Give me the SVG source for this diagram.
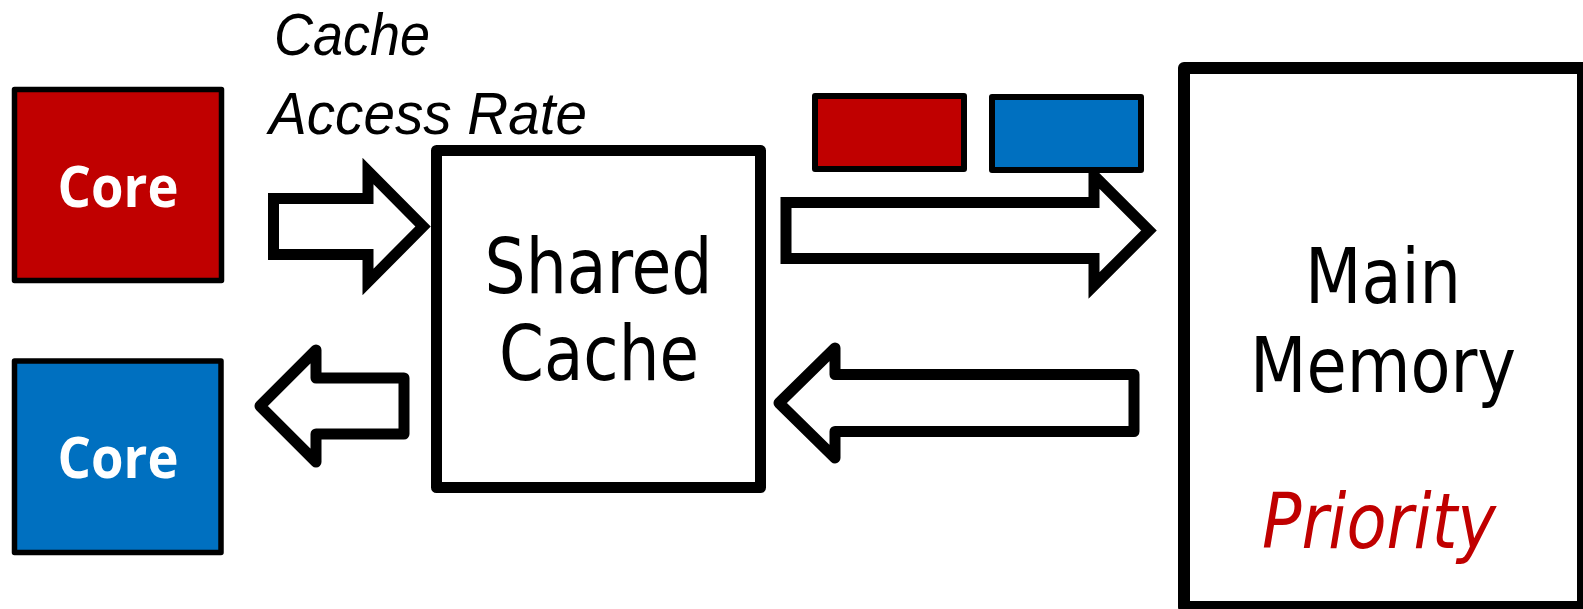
<svg xmlns="http://www.w3.org/2000/svg" width="1583" height="609" viewBox="0 0 1583 609">
<style>
.box{fill:#fff;stroke:#000;stroke-width:11;stroke-linejoin:round}
.core{stroke:#000;stroke-width:5.5;stroke-linejoin:round}
.chip{stroke:#000;stroke-width:6;stroke-linejoin:round}
.red{fill:#C00000}
.blue{fill:#0070C0}
.arrM{fill:#fff;stroke:#000;stroke-width:11;stroke-linejoin:miter;stroke-miterlimit:10}
.arrR{fill:#fff;stroke:#000;stroke-width:11;stroke-linejoin:round}
.coreT{font-family:"Open Sans","Liberation Sans",sans-serif;font-weight:bold;font-size:57px;fill:#fff;text-anchor:middle}
.big{font-family:"DejaVu Sans Condensed","DejaVu Sans",sans-serif;font-size:77px;fill:#000;text-anchor:middle}
.lbl{font-family:"Liberation Sans",Arial,sans-serif;font-style:italic;font-size:59px;fill:#000}
</style>
<g id="connectors">
<polygon class="arrM" points="273.5,198.5 368,198.5 368,171 423,226.5 368,282 368,254.5 273.5,254.5"/>
<polygon class="arrR" points="404,378 316,378 316,350 260,406 316,462 316,434 404,434"/>
<polygon class="arrM" points="786,202.5 1094,202.5 1094,175.5 1149,230.5 1094,285.5 1094,258.5 786,258.5"/>
<polygon class="arrR" points="1134,374.5 835,374.5 835,348 779,403 835,458 835,431.5 1134,431.5"/>
</g>
<g id="label-access-rate">
<text class="lbl" x="274" y="55" textLength="156" lengthAdjust="spacingAndGlyphs">Cache</text>
<text class="lbl" x="269" y="134" textLength="318" lengthAdjust="spacingAndGlyphs">Access Rate</text>
</g>
<g id="core-red">
<rect class="core red" x="14.5" y="89.5" width="207" height="191"/>
<text class="coreT" x="118" y="207" textLength="121" lengthAdjust="spacingAndGlyphs">Core</text>
</g>
<g id="core-blue">
<rect class="core blue" x="14.5" y="361" width="206.5" height="191.5"/>
<text class="coreT" x="118" y="478" textLength="121" lengthAdjust="spacingAndGlyphs">Core</text>
</g>
<g id="shared-cache">
<rect class="box" x="436.5" y="150.5" width="324" height="337"/>
<text class="big" x="598.5" y="293" textLength="228" lengthAdjust="spacingAndGlyphs">Shared</text>
<text class="big" x="599" y="380" textLength="200" lengthAdjust="spacingAndGlyphs">Cache</text>
</g>
<g id="request-red">
<rect class="chip red" x="815" y="96" width="149" height="73"/>
</g>
<g id="request-blue">
<rect class="chip blue" x="992" y="97" width="149" height="73"/>
</g>
<g id="main-memory">
<rect class="box" x="1184" y="68" width="399" height="539" style="stroke-width:12"/>
<text class="big" x="1383" y="303" textLength="156" lengthAdjust="spacingAndGlyphs">Main</text>
<text class="big" x="1383" y="392" textLength="266" lengthAdjust="spacingAndGlyphs">Memory</text>
<text class="big" x="1379" y="548" textLength="234" lengthAdjust="spacingAndGlyphs" style="font-style:italic;fill:#C00000">Priority</text>
</g>
</svg>
